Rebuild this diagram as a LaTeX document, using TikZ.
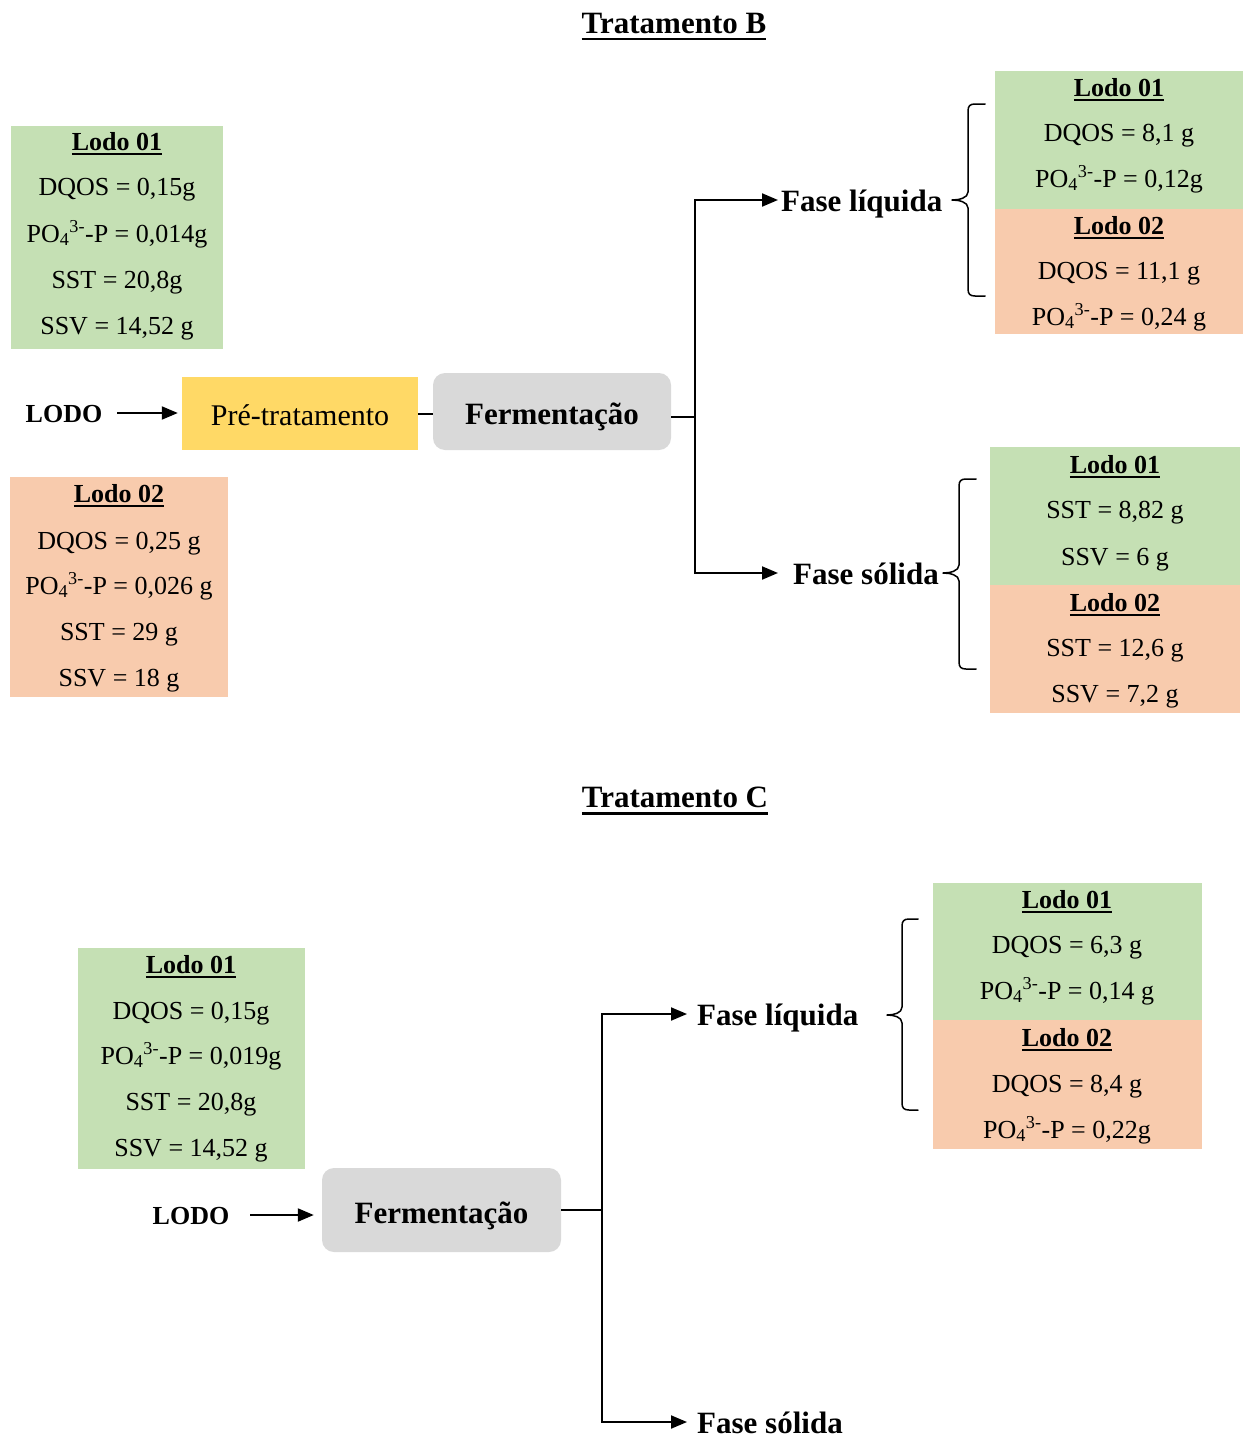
\documentclass[tikz,border=0pt]{standalone}
\usepackage{fontspec}
\setmainfont{Liberation Serif}
\usetikzlibrary{arrows.meta}

\definecolor{lodoA}{HTML}{C5E0B4}
\definecolor{lodoB}{HTML}{F8CBAD}
\definecolor{preT}{HTML}{FFD966}
\definecolor{fermG}{HTML}{D9D9D9}

% underlined heading: #1 rule depth, #2 rule thickness, #3 text
\newsavebox\ulbx
\newcommand\ulhead[3]{\sbox\ulbx{#3}\rlap{\rule[-#1]{\wd\ulbx}{#2}}\usebox\ulbx}
\newcommand\po{PO\textsubscript{4}\textsuperscript{3-}-P}

% curly brace opening to the right: x of stem, top y, bottom y, tip x, tip y, end x
\newcommand\curly[6]{%
  \draw[curly] (#6,#2) -- (#1+7,#2) .. controls (#1+2,#2) and (#1,#2+2) .. (#1,#2+7)
    -- (#1,#5-8) .. controls (#1,#5-2) and (#4+7,#5) .. (#4,#5)
    .. controls (#4+7,#5) and (#1,#5+2) .. (#1,#5+8)
    -- (#1,#3-7) .. controls (#1,#3-2) and (#1+2,#3) .. (#1+7,#3) -- (#6,#3);}

\begin{document}
\begin{tikzpicture}[x=1pt,y=-1pt,
  panel/.style={inner sep=0pt, anchor=north west, draw=none},
  txt/.style={font=\fontsize{26}{30}\selectfont, inner sep=0pt, text height=18pt, text depth=0pt},
  hd/.style={txt, font=\fontsize{26}{30}\selectfont\bfseries},
  title/.style={font=\fontsize{31}{36}\selectfont\bfseries, inner sep=0pt, text height=21pt, text depth=0pt},
  fase/.style={font=\fontsize{31}{36}\selectfont\bfseries, inner sep=0pt, text height=22pt, text depth=0pt, anchor=west},
  lodo/.style={font=\fontsize{26}{30}\selectfont\bfseries, inner sep=0pt, text height=18pt, text depth=0pt},
  stage/.style={inner sep=0pt, draw=none, text depth=0pt},
  conn/.style={line width=2pt},
  arrow/.style={line width=2pt, -{Triangle[length=16pt,width=13pt]}},
  curly/.style={line width=1.5pt, line join=round, line cap=round}]

\useasboundingbox (0,0) rectangle (1243,1437);

% ---------------- Tratamento B ----------------
\node[title] (titB) at (674,23) {\ulhead{7pt}{2.6pt}{Tratamento B}};

% input sludge characterisation
\node[panel, fill=lodoA, minimum width=212pt, minimum height=223pt] (inB1) at (11,126) {};
\node[panel, fill=lodoB, minimum width=218pt, minimum height=220pt] (inB2) at (10,477) {};
\node[hd]  (inB1a) at (117,141) {\ulhead{5pt}{2pt}{Lodo 01}};
\node[txt] (inB1b) at (117,186) {DQOS = 0,15g};
\node[txt] (inB1c) at (117,233) {\po{} = 0,014g};
\node[txt] (inB1d) at (117,279) {SST = 20,8g};
\node[txt] (inB1e) at (117,325) {SSV = 14,52 g};
\node[hd]  (inB2a) at (119,493) {\ulhead{5pt}{2pt}{Lodo 02}};
\node[txt] (inB2b) at (119,540) {DQOS = 0,25 g};
\node[txt] (inB2c) at (119,585) {\po{} = 0,026 g};
\node[txt] (inB2d) at (119,631) {SST = 29 g};
\node[txt] (inB2e) at (119,677) {SSV = 18 g};

% process chain
\node[lodo] (lodoB) at (64,413) {LODO};
\node[stage, fill=preT, minimum width=236pt, minimum height=73pt, text height=23pt,
      font=\fontsize{30}{34}\selectfont] (pre) at (300,413.5) {Pré-tratamento};
\node[stage, fill=fermG, rounded corners=12pt, minimum width=238pt, minimum height=77pt,
      text height=25pt, font=\fontsize{31}{36}\selectfont\bfseries] (fermB) at (552,411.5) {Fermentação};

\node[fase] (liqB) at (781,200) {Fase líquida};
\node[fase] (solB) at (793,573) {Fase sólida};
\coordinate (jB) at (695,417);

\draw[arrow] ([xshift=15pt]lodoB.east) -- ([xshift=-4pt]lodoB.east -| pre.west);
\draw[conn] (pre.east) -- (pre.east -| fermB.west);
\draw[conn] (fermB.east |- jB) -- (jB);
\draw[arrow] (jB) |- ([xshift=-3pt]liqB.west);
\draw[arrow] (jB) |- ([xshift=-15pt]solB.west);

% liquid phase results
\curly{968}{104}{296}{952}{200}{985}
\node[panel, fill=lodoA, minimum width=248pt, minimum height=138pt] (lqB1) at (995,71) {};
\node[panel, fill=lodoB, minimum width=248pt, minimum height=125pt] (lqB2) at (995,209) {};
\node[hd]  (lqB1a) at (1119,87)  {\ulhead{5pt}{2pt}{Lodo 01}};
\node[txt] (lqB1b) at (1119,132) {DQOS = 8,1 g};
\node[txt] (lqB1c) at (1119,178) {\po{} = 0,12g};
\node[hd]  (lqB2a) at (1119,225) {\ulhead{5pt}{2pt}{Lodo 02}};
\node[txt] (lqB2b) at (1119,270) {DQOS = 11,1 g};
\node[txt] (lqB2c) at (1119,316) {\po{} = 0,24 g};

% solid phase results
\curly{959}{479}{669}{943}{573}{976}
\node[panel, fill=lodoA, minimum width=250pt, minimum height=138pt] (slB1) at (990,447) {};
\node[panel, fill=lodoB, minimum width=250pt, minimum height=128pt] (slB2) at (990,585) {};
\node[hd]  (slB1a) at (1115,464) {\ulhead{5pt}{2pt}{Lodo 01}};
\node[txt] (slB1b) at (1115,509) {SST = 8,82 g};
\node[txt] (slB1c) at (1115,556) {SSV = 6 g};
\node[hd]  (slB2a) at (1115,602) {\ulhead{5pt}{2pt}{Lodo 02}};
\node[txt] (slB2b) at (1115,647) {SST = 12,6 g};
\node[txt] (slB2c) at (1115,693) {SSV = 7,2 g};

% ---------------- Tratamento C ----------------
\node[title] (titC) at (675,797) {\ulhead{7pt}{2.6pt}{Tratamento C}};

\node[panel, fill=lodoA, minimum width=227pt, minimum height=221pt] (inC1) at (78,948) {};
\node[hd]  (inC1a) at (191,964)  {\ulhead{5pt}{2pt}{Lodo 01}};
\node[txt] (inC1b) at (191,1010) {DQOS = 0,15g};
\node[txt] (inC1c) at (191,1055) {\po{} = 0,019g};
\node[txt] (inC1d) at (191,1101) {SST = 20,8g};
\node[txt] (inC1e) at (191,1147) {SSV = 14,52 g};

\node[lodo] (lodoC) at (191,1215) {LODO};
\node[stage, fill=fermG, rounded corners=12pt, minimum width=239pt, minimum height=84pt,
      text height=26pt, font=\fontsize{31}{36}\selectfont\bfseries] (fermC) at (441.5,1210) {Fermentação};

\node[fase] (liqC) at (697,1014) {Fase líquida};
\node[fase] (solC) at (697,1422) {Fase sólida};
\coordinate (jC) at (602,1210);

\draw[arrow] ([xshift=21pt]lodoC.east) -- ([xshift=-8pt]lodoC.east -| fermC.west);
\draw[conn] (fermC.east |- jC) -- (jC);
\draw[arrow] (jC) |- ([xshift=-10pt]liqC.west);
\draw[arrow] (jC) |- ([xshift=-10pt]solC.west);

\curly{902}{919}{1110}{887}{1015}{918}
\node[panel, fill=lodoA, minimum width=269pt, minimum height=137pt] (lqC1) at (933,883) {};
\node[panel, fill=lodoB, minimum width=269pt, minimum height=129pt] (lqC2) at (933,1020) {};
\node[hd]  (lqC1a) at (1067,899)  {\ulhead{5pt}{2pt}{Lodo 01}};
\node[txt] (lqC1b) at (1067,944)  {DQOS = 6,3 g};
\node[txt] (lqC1c) at (1067,990)  {\po{} = 0,14 g};
\node[hd]  (lqC2a) at (1067,1037) {\ulhead{5pt}{2pt}{Lodo 02}};
\node[txt] (lqC2b) at (1067,1083) {DQOS = 8,4 g};
\node[txt] (lqC2c) at (1067,1129) {\po{} = 0,22g};

\end{tikzpicture}
\end{document}
